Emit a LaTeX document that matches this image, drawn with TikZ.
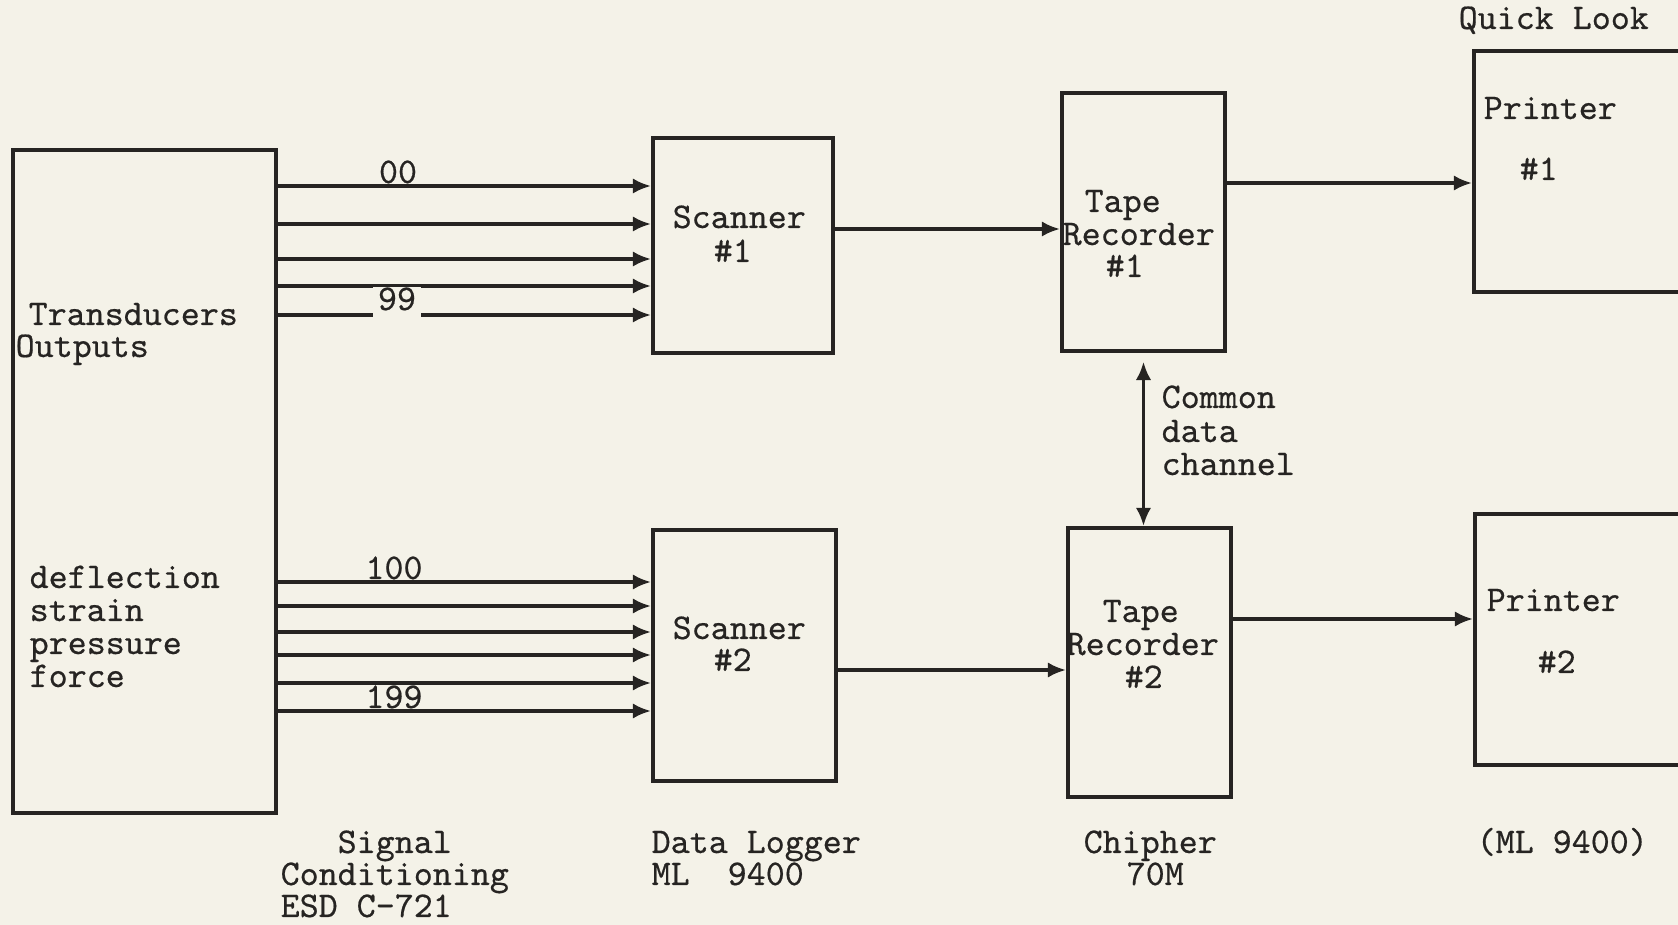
\documentclass[tikz,border=0pt]{standalone}
\usepackage{fontspec}
\newfontfamily\tw{Latin Modern Mono}[FakeBold=0.5]
\usetikzlibrary{arrows.meta,fit,calc}
\definecolor{paper}{RGB}{244,242,232}
\definecolor{ink}{RGB}{38,36,34}
\tikzset{
  box/.style={draw=ink, line width=1.1pt, inner sep=0pt, rectangle},
  arr/.style={draw=ink, line width=1pt, -{Latex[length=5.2pt,width=4.4pt]}},
  dbl/.style={draw=ink, line width=1pt, {Latex[length=5.2pt,width=4.4pt]}-{Latex[length=5.2pt,width=4.4pt]}},
  lbl/.style={inner sep=0pt, anchor=base west, text=ink, font=\tw\fontsize{10.3pt}{9.4pt}\selectfont},
  clbl/.style={lbl, anchor=base},
}
\begin{document}
\begin{tikzpicture}[x=0.01cm,y=-0.01cm]
\fill[paper] (0,0) rectangle (1678,925);
\useasboundingbox (0,0) rectangle (1678,925);
\clip (0,0) rectangle (1678,925);

% boxes
\node[box, fit={(13,150) (276,813)}] (tr) {};
\node[box, fit={(653,138) (833,353)}] (sc1) {};
\node[box, fit={(653,530) (836,781)}] (sc2) {};
\node[box, fit={(1062,93) (1225,351)}] (tp1) {};
\node[box, fit={(1068,528) (1231,797)}] (tp2) {};
\node[box, fit={(1474,51) (1730,292)}] (pr1) {};
\node[box, fit={(1475,514) (1730,765)}] (pr2) {};

% level coordinates
\coordinate (u1) at (0,186);
\coordinate (u2) at (0,224);
\coordinate (u3) at (0,259);
\coordinate (u4) at (0,286);
\coordinate (u5) at (0,315);
\coordinate (l1) at (0,582);
\coordinate (l2) at (0,606);
\coordinate (l3) at (0,632);
\coordinate (l4) at (0,655);
\coordinate (l5) at (0,683);
\coordinate (l6) at (0,711);
\coordinate (a1) at (0,229);
\coordinate (a2) at (0,183);
\coordinate (a3) at (0,670);
\coordinate (a4) at (0,619);

% channel arrows
\foreach \c in {u1,u2,u3,u4,u5}
  \draw[arr] (tr.east |- \c) -- (sc1.west |- \c);
\foreach \c in {l1,l2,l3,l4,l5,l6}
  \draw[arr] (tr.east |- \c) -- (sc2.west |- \c);

% flow arrows
\draw[arr] (sc1.east |- a1) -- (tp1.west |- a1);
\draw[arr] (tp1.east |- a2) -- (pr1.west |- a2);
\draw[arr] (sc2.east |- a3) -- (tp2.west |- a3);
\draw[arr] (tp2.east |- a4) -- (pr2.west |- a4);
\draw[dbl] ([yshift=-2.5pt]tp1.south) -- (tp1.south |- tp2.north);

% channel labels
\node[clbl] (n00) at (398,183) {00};
\node[clbl, fill=paper, inner xsep=1.5pt, text depth=2.8pt] (n99) at (397,310) {99};
\node[clbl] (n100) at (394,579) {100};
\node[clbl] (n199) at (394,708) {199};

% transducer texts
\node[lbl] (t1) at (28,325) {Transducers};
\node[lbl] (t2) at (15,357) {Outputs};
\node[lbl] (d1) at (29,588) {deflection};
\node[lbl] (d2) at (29,621) {strain};
\node[lbl] (d3) at (29,654) {pressure};
\node[lbl] (d4) at (29,687) {force};

% scanner texts
\node[lbl] (s1a) at (672,228) {Scanner};
\node[lbl] (s1b) at (713,262) {\#1};
\node[lbl] (s2a) at (672,639) {Scanner};
\node[lbl] (s2b) at (713,671) {\#2};

% tape recorder texts
\node[lbl] (r1a) at (1084,212) {Tape};
\node[lbl] (r1b) at (1062,245) {Recorder};
\node[lbl] (r1c) at (1105,277) {\#1};
\node[lbl] (r2a) at (1102,622) {Tape};
\node[lbl] (r2b) at (1066,655) {Recorder};
\node[lbl] (r2c) at (1124,688) {\#2};

% printer texts
\node[lbl] (p1a) at (1483,119) {Printer};
\node[lbl] (p1b) at (1519,180) {\#1};
\node[lbl] (p2a) at (1486,611) {Printer};
\node[lbl] (p2b) at (1537,673) {\#2};
\node[lbl] (ql) at (1458,29) {Quick Look};

% common data channel
\node[lbl] (c1) at (1161,408) {Common};
\node[lbl] (c2) at (1161,442) {data};
\node[lbl] (c3) at (1161,475) {channel};

% bottom captions
\node[lbl] (b1) at (337,853) {Signal};
\node[lbl] (b2) at (280,885) {Conditioning};
\node[lbl] (b3) at (280,917) {ESD C-721};
\node[lbl] (b4) at (651,853) {Data Logger};
\node[lbl] (b5) at (651,885) {ML\ \ 9400};
\node[lbl] (b6) at (1083,853) {Chipher};
\node[lbl] (b7) at (1126,885) {70M};
\node[lbl] (b8) at (1476,853) {(ML 9400)};
\end{tikzpicture}
\end{document}
